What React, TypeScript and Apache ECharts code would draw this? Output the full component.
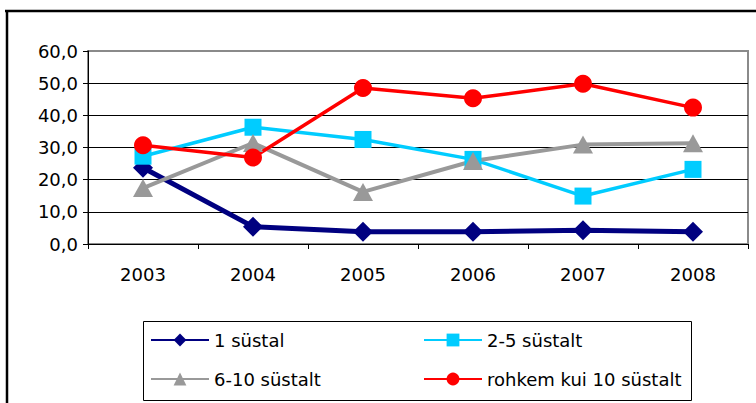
import React, { useEffect, useRef } from "react";
import * as echarts from "echarts";

const years = ["2003", "2004", "2005", "2006", "2007", "2008"];
const s1Name = "1 süstal";
const s2Name = "2-5 süstalt";
const s3Name = "6-10 süstalt";
const s4Name = "rohkem kui 10 süstalt";
const s1 = [23.7, 5.4, 3.8, 3.8, 4.3, 3.8];
const s2 = [27.3, 36.3, 32.5, 26.3, 14.9, 23.2];
const s3 = [17.4, 31.4, 16.2, 25.8, 30.9, 31.3];
const s4 = [30.7, 26.9, 48.5, 45.3, 49.8, 42.4];

const FONT = "DejaVu Sans";

export default function App() {
  const ref = useRef<HTMLDivElement>(null);
  useEffect(() => {
    if (!ref.current) return;
    const chart = echarts.init(ref.current, null, { renderer: "svg" });
    const legendBase = {
      itemWidth: 58,
      itemHeight: 16,
      itemGap: 0,
      textStyle: { fontFamily: FONT, fontSize: 18, color: "#000" },
      padding: 0,
    };
    chart.setOption({
      animation: false,
      backgroundColor: "#fff",
      grid: {
        left: 88,
        top: 51,
        right: 8,
        bottom: 159,
        show: true,
        borderColor: "#8a8a8a",
        borderWidth: 2,
      },
      xAxis: {
        type: "category",
        data: years,
        boundaryGap: true,
        axisLine: { lineStyle: { color: "#000", width: 1 } },
        axisTick: { show: true, length: 5, lineStyle: { color: "#000" } },
        axisLabel: { fontFamily: FONT, fontSize: 18, color: "#000", margin: 21 },
      },
      yAxis: {
        type: "value",
        min: 0,
        max: 60,
        interval: 10,
        axisLine: { show: true, lineStyle: { color: "#000", width: 1 } },
        axisTick: { show: true, length: 5, lineStyle: { color: "#000" } },
        axisLabel: {
          fontFamily: FONT,
          fontSize: 18,
          color: "#000",
          margin: 10,
          formatter: (v: number) => v.toFixed(1).replace(".", ","),
        },
        splitLine: {
          show: true,
          lineStyle: { color: ["#000", "#000", "#000", "#000", "#000", "#000", "#8a8a8a"], width: 1 },
        },
      },
      legend: [
        { ...legendBase, data: [s1Name], left: 150, top: 331 },
        { ...legendBase, data: [s2Name], left: 423, top: 331 },
        { ...legendBase, data: [s3Name], left: 150, top: 370 },
        { ...legendBase, data: [s4Name], left: 423, top: 370 },
      ],
      graphic: [
        {
          type: "line",
          shape: { x1: 5, y1: 11, x2: 756, y2: 11 },
          style: { stroke: "#000", lineWidth: 2.5 },
        },
        {
          type: "line",
          shape: { x1: 7, y1: 10, x2: 7, y2: 403 },
          style: { stroke: "#000", lineWidth: 2.5 },
        },
        {
          type: "rect",
          shape: { x: 143.5, y: 321.5, width: 548, height: 79 },
          style: { stroke: "#000", lineWidth: 1, fill: "none" },
        },
      ],
      series: [
        {
          name: s1Name,
          type: "line",
          data: s1,
          symbol: "diamond",
          symbolSize: [20, 20],
          lineStyle: { color: "#000080", width: 5 },
          itemStyle: { color: "#000080" },
        },
        {
          name: s2Name,
          type: "line",
          data: s2,
          symbol: "rect",
          symbolSize: [17, 17],
          lineStyle: { color: "#00CCFF", width: 3.5 },
          itemStyle: { color: "#00CCFF" },
        },
        {
          name: s3Name,
          type: "line",
          data: s3,
          symbol: "triangle",
          symbolSize: [20, 18],
          lineStyle: { color: "#999999", width: 4 },
          itemStyle: { color: "#999999" },
        },
        {
          name: s4Name,
          type: "line",
          data: s4,
          symbol: "circle",
          symbolSize: 18,
          lineStyle: { color: "#FF0000", width: 3.5 },
          itemStyle: { color: "#FF0000" },
        },
      ],
    });
    return () => chart.dispose();
  }, []);
  return (
    <div
      ref={ref}
      style={{ position: "absolute", left: 0, top: 0, width: 756, height: 403 }}
    />
  );
}
